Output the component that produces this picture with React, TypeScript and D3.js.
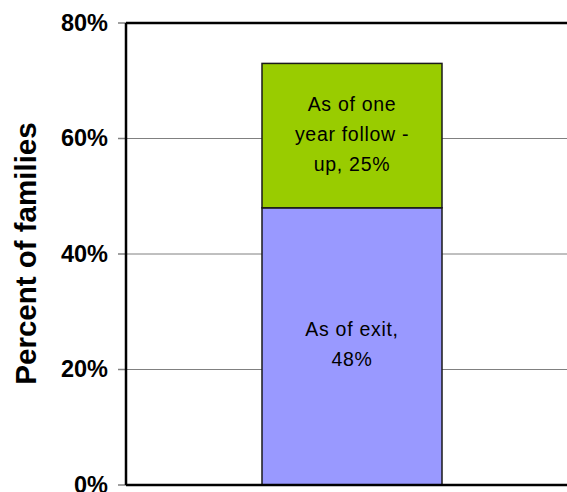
import React from "react";
import * as d3 from "d3";

// Stacked share of families, one column
const segments = [
  { key: "exit", lines: ["As of exit,", "48%"], value: 48, color: "#9999FF" },
  { key: "followup", lines: ["As of one", "year follow -", "up, 25%"], value: 25, color: "#99CC00" },
];
const yTicks = [0, 20, 40, 60, 80];

const W = 567;
const H = 492;
const left = 126;
const top = 23;
const bottom = 485;
const right = 567;
const barLeft = 262;
const barWidth = 180;

export default function App() {
  const y = d3.scaleLinear().domain([0, 80]).range([bottom, top]);

  const stacked = d3
    .stack<Record<string, number>>()
    .keys(segments.map((s) => s.key))([Object.fromEntries(segments.map((s) => [s.key, s.value]))]);

  return (
    <svg
      width={W}
      height={H}
      style={{ position: "absolute", left: 0, top: 0, fontFamily: "Arial, 'Liberation Sans', sans-serif" }}
    >
      <rect width={W} height={H} fill="#fff" />
      {yTicks.slice(1, -1).map((t) => (
        <line key={t} x1={left} x2={right} y1={y(t)} y2={y(t)} stroke="#808080" strokeWidth={1} />
      ))}
      {yTicks.map((t) => (
        <g key={t}>
          <line x1={118} x2={left} y1={y(t)} y2={y(t)} stroke="#808080" strokeWidth={1.5} />
          <text x={108} y={y(t)} dy="0.33em" textAnchor="end" fontSize={23.5} fontWeight="bold" fill="#000">
            {t}%
          </text>
        </g>
      ))}
      {stacked.map((layer, k) => {
        const s = segments[k];
        const [v0, v1] = layer[0];
        const y0 = y(v0);
        const y1 = y(v1);
        const cy = (y0 + y1) / 2 - 2;
        const lh = 30;
        return (
          <g key={s.key}>
            <rect x={barLeft} y={y1} width={barWidth} height={y0 - y1} fill={s.color} stroke="#1a1a1a" strokeWidth={1.5} />
            {s.lines.map((ln, i) => (
              <text
                key={i}
                x={barLeft + barWidth / 2}
                y={cy + (i - (s.lines.length - 1) / 2) * lh}
                dy="0.36em"
                textAnchor="middle"
                fontSize={19.5}
                letterSpacing={0.7}
                fill="#000"
              >
                {ln}
              </text>
            ))}
          </g>
        );
      })}
      <line x1={left} x2={right} y1={top} y2={top} stroke="#000" strokeWidth={2.5} />
      <line x1={left} x2={left} y1={top} y2={bottom} stroke="#000" strokeWidth={2.5} />
      <line x1={left} x2={right} y1={bottom} y2={bottom} stroke="#000" strokeWidth={2.5} />
      <text
        transform={`translate(36,253.5) rotate(-90)`}
        textAnchor="middle"
        fontSize={29.5}
        fontWeight="bold"
        fill="#000"
      >
        Percent of families
      </text>
    </svg>
  );
}
